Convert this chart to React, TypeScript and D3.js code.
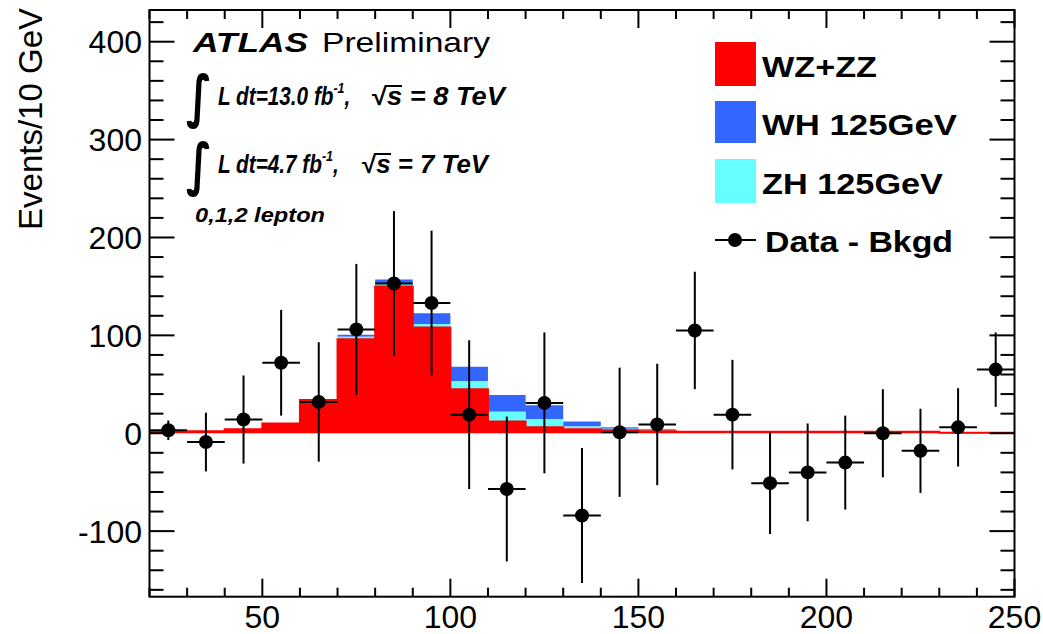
import React from 'react';
import * as d3 from 'd3';

const binCenters = [25, 35, 45, 55, 65, 75, 85, 95, 105, 115, 125, 135, 145, 155, 165, 175, 185, 195, 205, 215, 225, 235, 245];
const binHalf = 5;
const wzzz = [2, 2, 4, 10, 34, 96, 150, 108, 45, 12, 6, 4, 3, 2, 1.5, 1.5, 1.5, 1.5, 1.5, 1.5, 1.5, 0.5, 0.5];
const zh125 = [0, 0, 0, 0, 0.5, 2.5, 3, 3.5, 8, 10, 8.5, 2.8, 1.5, 1, 0.3, 0, 0, 0, 0, 0, 0, 0, 0];
const wh125 = [0, 0, 0, 0, 0.5, 2, 4, 11, 15, 17, 14, 5.2, 1.5, 1, 0.3, 0, 0, 0, 0, 0, 0, 0, 0];
const dataVals = [3, -9, 14, 72, 32, 106, 153, 133, 19, -57, 31, -84, 1, 9, 105, 19, -51, -40, -30, 0, -18, 6, 65];
const dataErrs = [10, 30, 45, 54, 61, 67, 74, 74, 76, 74, 72, 69, 66, 62, 60, 56, 52, 50, 48, 45, 43, 40, 38];
const xMajorTicks = [50, 100, 150, 200, 250];
const yMajorTicks = [-100, 0, 100, 200, 300, 400];

const W = 1043, H = 634;
const L = 149.5, R = 1014.5, T = 10, B = 596.7;

const RED = '#ff0000', BLUE = '#3366ff', CYAN = '#66ffff';

const x = d3.scaleLinear().domain([20, 250]).range([L, R]);
const y = d3.scaleLinear().domain([-167, 432.4]).range([B, T]);

type P = { x: number; lo: number; hi: number };
function stepPoints(lower: number[], upper: number[]): P[] {
  const pts: P[] = [];
  binCenters.forEach((c, i) => {
    pts.push({ x: c - binHalf, lo: lower[i], hi: upper[i] });
    pts.push({ x: c + binHalf, lo: lower[i], hi: upper[i] });
  });
  return pts;
}
const area = d3.area<P>().x(d => x(d.x)).y0(d => y(d.lo)).y1(d => y(d.hi));
const line = d3.line<P>().x(d => x(d.x)).y(d => y(d.hi));

const zeros = binCenters.map(() => 0);
const redTop = wzzz;
const cyanTop = wzzz.map((v, i) => v + zh125[i]);
const blueTop = cyanTop.map((v, i) => v + wh125[i]);

const font = '"Liberation Sans", Arial, Helvetica, sans-serif';
const dv = '"DejaVu Sans", sans-serif';

function Txt(p: { x: number; y: number; w?: number; size: number; bold?: boolean; italic?: boolean; children: React.ReactNode; family?: string }) {
  return (
    <text x={p.x} y={p.y} fontSize={p.size} fontFamily={p.family || font}
      fontWeight={p.bold ? 'bold' : 'normal'} fontStyle={p.italic ? 'italic' : 'normal'}
      textLength={p.w} lengthAdjust={p.w ? 'spacingAndGlyphs' : undefined} fill="#000">
      {p.children}
    </text>
  );
}

function Lumi(p: { x: number; y: number; sx: number; main: string }) {
  return (
    <text transform={`translate(${p.x},${p.y}) scale(${p.sx},1)`} fontSize={25} fontFamily={font}
      fontWeight="bold" fontStyle="italic" fill="#000">
      {p.main}
      <tspan dy={-12} fontSize={15}>-1</tspan>
      <tspan dy={12}>,</tspan>
    </text>
  );
}

function Energy(p: { x: number; y: number; w: number; tev: string }) {
  return (
    <text x={p.x} y={p.y} fontSize={25} fontFamily={font} fontWeight="bold" fill="#000"
      textLength={p.w} lengthAdjust="spacingAndGlyphs">
      <tspan>√</tspan>
      <tspan fontStyle="italic">{`s = ${p.tev} TeV`}</tspan>
    </text>
  );
}

export default function App() {
  const xMinor = d3.range(20, 251, 10);
  const yMinor = d3.range(-160, 421, 20);
  return (
    <svg width={W} height={H} style={{ position: 'absolute', left: 0, top: 0, background: '#fff' }}>
      <rect x={0} y={0} width={W} height={H} fill="#fff" />
      {/* stacked histograms */}
      <path d={area(stepPoints(cyanTop, blueTop)) || ''} fill={BLUE} />
      <path d={area(stepPoints(redTop, cyanTop)) || ''} fill={CYAN} />
      <path d={area(stepPoints(zeros, redTop)) || ''} fill={RED} />
      <path d={line(stepPoints(zeros, redTop)) || ''} fill="none" stroke={RED} strokeWidth={2} />

      {/* data points */}
      {binCenters.map((c, i) => (
        <g key={c}>
          <line x1={x(c)} x2={x(c)} y1={y(dataVals[i] - dataErrs[i])} y2={y(dataVals[i] + dataErrs[i])} stroke="#000" strokeWidth={2} />
          <line x1={x(c - binHalf)} x2={x(c + binHalf)} y1={y(dataVals[i])} y2={y(dataVals[i])} stroke="#000" strokeWidth={2} />
          <circle cx={x(c)} cy={y(dataVals[i])} r={7} fill="#000" />
        </g>
      ))}

      {/* frame and ticks */}
      <rect x={L} y={T} width={R - L} height={B - T} fill="none" stroke="#000" strokeWidth={2} />
      {xMinor.map(v => {
        const major = xMajorTicks.includes(v);
        const len = major ? 18 : 9;
        return (
          <g key={'x' + v}>
            <line x1={x(v)} x2={x(v)} y1={B} y2={B - len} stroke="#000" strokeWidth={2} />
            <line x1={x(v)} x2={x(v)} y1={T} y2={T + len} stroke="#000" strokeWidth={2} />
          </g>
        );
      })}
      {yMinor.map(v => {
        const major = yMajorTicks.includes(v);
        const len = major ? 25 : 14;
        return (
          <g key={'y' + v}>
            <line x1={L} x2={L + len} y1={y(v)} y2={y(v)} stroke="#000" strokeWidth={2} />
            <line x1={R} x2={R - len} y1={y(v)} y2={y(v)} stroke="#000" strokeWidth={2} />
          </g>
        );
      })}
      {xMajorTicks.map(v => (
        <text key={'xl' + v} x={x(v)} y={628} fontSize={32} fontFamily={font} textAnchor="middle">{v}</text>
      ))}
      {yMajorTicks.map(v => (
        <text key={'yl' + v} x={142} y={y(v) + 11.5} fontSize={32} fontFamily={font} textAnchor="end">{v}</text>
      ))}
      <text transform="translate(42,8) rotate(-90)" fontSize={33} fontFamily={font} textAnchor="end">Events/10 GeV</text>

      {/* annotations */}
      <Txt x={193} y={52} w={115} size={28} bold italic>ATLAS</Txt>
      <Txt x={322} y={52} w={168} size={28}>Preliminary</Txt>

      <text x={186} y={116} fontSize={57} fontWeight="bold" fontFamily={dv} textLength={26} lengthAdjust="spacingAndGlyphs">∫</text>
      <Lumi x={218} y={105} sx={0.83} main="L dt=13.0 fb" />
      <Energy x={372} y={105} w={133} tev="8" />
      <line x1={385} x2={402} y1={86} y2={86} stroke="#000" strokeWidth={2} />

      <text x={186} y={184} fontSize={57} fontWeight="bold" fontFamily={dv} textLength={26} lengthAdjust="spacingAndGlyphs">∫</text>
      <Lumi x={218} y={173} sx={0.83} main="L dt=4.7 fb" />
      <Energy x={362} y={173} w={126} tev="7" />
      <line x1={374} x2={391} y1={154} y2={154} stroke="#000" strokeWidth={2} />

      <Txt x={195} y={222} w={130} size={21} bold italic>0,1,2 lepton</Txt>

      {/* legend */}
      <rect x={715} y={42} width={41} height={44} fill={RED} />
      <rect x={715} y={101} width={41} height={42} fill={BLUE} />
      <rect x={715} y={159} width={41} height={44} fill={CYAN} />
      <line x1={715} x2={756} y1={240} y2={240} stroke="#000" strokeWidth={2} />
      <circle cx={735} cy={240} r={7} fill="#000" />
      <Txt x={762} y={77} w={115} size={30} bold>WZ+ZZ</Txt>
      <Txt x={762} y={135} w={195} size={30} bold>WH 125GeV</Txt>
      <Txt x={762} y={194} w={181} size={30} bold>ZH 125GeV</Txt>
      <Txt x={765} y={252} w={188} size={30} bold>Data - Bkgd</Txt>
    </svg>
  );
}
